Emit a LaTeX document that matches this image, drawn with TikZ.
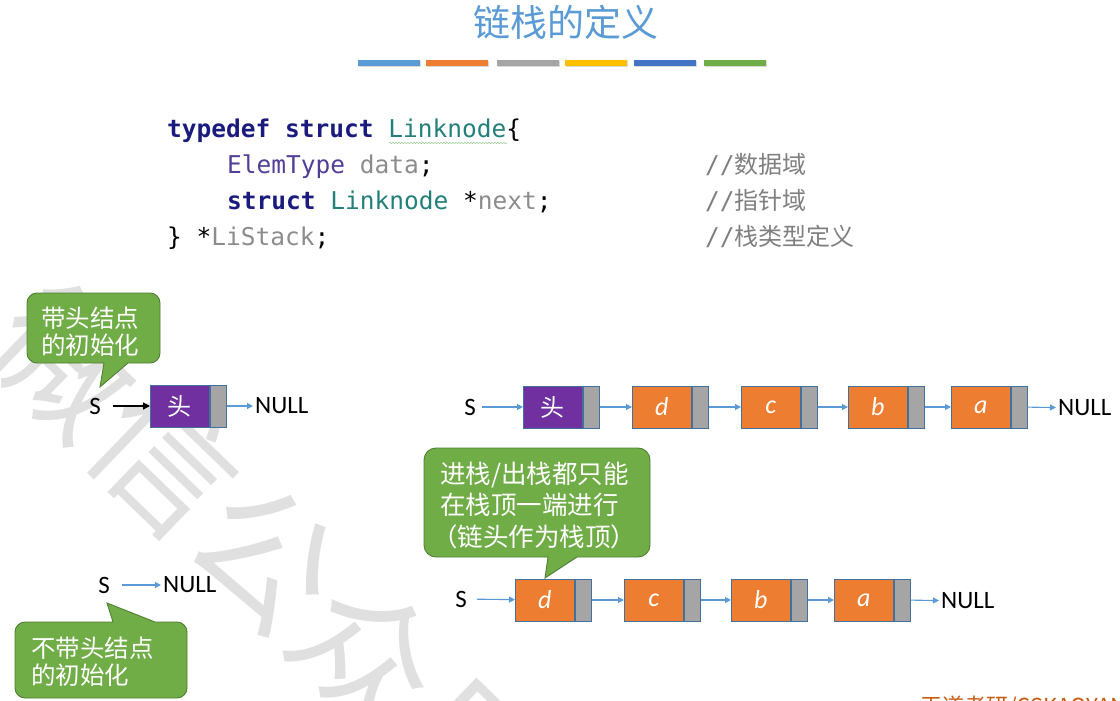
\documentclass[tikz,border=0pt]{standalone}
\usepackage{fontspec}
\setmainfont{Carlito}
\setmonofont{DejaVu Sans Mono}
\newfontfamily\cjk{Noto Sans CJK SC}
\usetikzlibrary{arrows.meta,decorations.pathmorphing}

\definecolor{titleblue}{HTML}{5B9BD5}
\definecolor{barA}{HTML}{5B9BD5}
\definecolor{barB}{HTML}{ED7D31}
\definecolor{barC}{HTML}{A5A5A5}
\definecolor{barD}{HTML}{FFC000}
\definecolor{barE}{HTML}{4472C4}
\definecolor{barF}{HTML}{70AD47}
\definecolor{kwnavy}{HTML}{1B1B7E}
\definecolor{typeteal}{HTML}{237F7A}
\definecolor{typepurple}{HTML}{523E96}
\definecolor{identgray}{HTML}{8C8C8C}
\definecolor{cmtgray}{HTML}{7F7F7F}
\definecolor{calloutfill}{HTML}{70AD47}
\definecolor{calloutedge}{HTML}{507E32}
\definecolor{nodeedge}{HTML}{41719C}
\definecolor{headpurple}{HTML}{7030A0}
\definecolor{dataorange}{HTML}{ED7D31}
\definecolor{ptrgray}{HTML}{A5A5A5}
\definecolor{linkblue}{HTML}{5B9BD5}
\definecolor{brand}{HTML}{C55A11}
\definecolor{squiggle}{HTML}{A9CFA0}

\newcommand\codefont{\ttfamily\fontsize{24.5}{30}\selectfont}
\newcommand\cmtcjk{\cjk\fontsize{24}{24}\selectfont}

\begin{document}
\begin{tikzpicture}[x=1pt,y=-1pt,
  codeline/.style={anchor=base west, inner sep=0, font=\codefont},
  cmtline/.style={anchor=base west, inner sep=0, text=cmtgray},
  datacell/.style={draw=nodeedge, line width=0.8pt, minimum width=59pt,
    minimum height=42pt, inner sep=0, anchor=west, text=white},
  headcell/.style={datacell, fill=headpurple, font=\cjk\fontsize{24}{24}\selectfont},
  elemcell/.style={datacell, fill=dataorange, font=\itshape\fontsize{26}{26}\selectfont},
  ptrcell/.style={draw=nodeedge, line width=0.8pt, fill=ptrgray, minimum width=16pt,
    minimum height=42pt, inner sep=0, anchor=west},
  lbl/.style={font=\fontsize{25}{25}\selectfont, inner sep=2pt},
  link/.style={draw=linkblue, line width=1.1pt, -{Triangle[length=6pt,width=6pt]}},
  callout/.style={fill=calloutfill, draw=calloutedge, line width=0.9pt},
  callouttext/.style={text=white, font=\cjk\fontsize{24.5}{27}\selectfont,
    align=left, anchor=west, inner sep=0},
]
\useasboundingbox (0,0) rectangle (1120,701);
\clip (0,0) rectangle (1120,701);

% faint background watermark
\node[text=black!12, rotate=-44, inner sep=0,
  font=\cjk\fontsize{140}{140}\selectfont] (wm) at (267,556) {微信公众号};

% title and colour strip
\node[text=titleblue, font=\cjk\fontsize{37}{40}\selectfont] (title) at (566,22) {链栈的定义};
\foreach \x/\c in {358/barA, 426/barB, 497/barC, 565/barD, 634/barE, 704/barF} {
  \fill[black!15] (\x+1,61.5) rectangle (\x+63,67.5);
  \fill[\c] (\x,60) rectangle (\x+62,66);
}

% structure definition
\node[codeline] (c1) at (167,137) {{\bfseries\color{kwnavy}typedef struct} {\color{typeteal}Linknode}\{};
\node[codeline] (c2) at (227,173) {{\color{typepurple}ElemType} {\color{identgray}data};};
\node[codeline] (c3) at (227,209) {{\bfseries\color{kwnavy}struct} {\color{typeteal}Linknode} *{\color{identgray}next};};
\node[codeline] (c4) at (167,245) {\} *{\color{identgray}LiStack};};
\draw[squiggle, line width=0.6pt, decorate,
  decoration={snake, amplitude=0.8pt, segment length=3pt}] (389,143) -- (507,143);

\node[cmtline] (m1) at (705,173) {{\codefont //}{\cmtcjk 数据域}};
\node[cmtline] (m2) at (705,209) {{\codefont //}{\cmtcjk 指针域}};
\node[cmtline] (m3) at (705,245) {{\codefont //}{\cmtcjk 栈类型定义}};

% callouts
\path[callout] (37,293) -- (150,293) arc(-90:0:10) -- (160,353) arc(0:90:10)
  -- (128,363) -- (100,387) -- (104,363) -- (37,363) arc(90:180:10)
  -- (27,303) arc(180:270:10) -- cycle;
\node[callouttext] (t1) at (41,331.5) {带头结点\\的初始化};

\path[callout] (436,448) -- (638,448) arc(-90:0:12) -- (650,545) arc(0:90:12)
  -- (577,557) -- (545,578) -- (548,557) -- (436,557) arc(90:180:12)
  -- (424,460) arc(180:270:12) -- cycle;
\node[callouttext, font=\cjk\fontsize{25.5}{31.5}\selectfont] (t2) at (440,505)
  {进栈/出栈都只能\\在栈顶一端进行\\\hspace*{-8pt}（链头作为栈顶）};

\path[callout] (25,622) -- (113,622) -- (107,603) -- (155,622) -- (177,622)
  arc(-90:0:10) -- (187,688) arc(0:90:10) -- (25,698) arc(90:180:10)
  -- (15,632) arc(180:270:10) -- cycle;
\node[callouttext] (t3) at (31,661.5) {不带头结点\\的初始化};

% initialised stack with head node
\node[lbl] (s0) at (95,406) {S};
\node[headcell] (h0) at (150,406) {头};
\node[ptrcell] (h0p) at (h0.east) {};
\node[lbl, anchor=west] (n0) at (253,406) {NULL};
\draw[black, line width=1.4pt, -{Triangle[length=7pt,width=7pt]}, shorten <=10pt] (s0) -- (h0);
\draw[link] (h0p) -- (n0);

% stack with head node holding d c b a
\node[lbl] (s1) at (470,407) {S};
\node[headcell] (h1) at (523,407) {头};
\node[ptrcell] (h1p) at (h1.east) {};
\node[elemcell] (d1) at (632,407) {d};
\node[ptrcell] (d1p) at (d1.east) {};
\node[elemcell] (c1n) at (741,407) {c};
\node[ptrcell] (c1p) at (c1n.east) {};
\node[elemcell] (b1) at (848,407) {b};
\node[ptrcell] (b1p) at (b1.east) {};
\node[elemcell] (a1) at (951,407) {a};
\node[ptrcell] (a1p) at (a1.east) {};
\node[lbl, anchor=west] (n1) at (1056,408) {NULL};
\draw[link, shorten <=4pt] (s1) -- (h1);
\draw[link] (h1p) -- (d1);
\draw[link] (d1p) -- (c1n);
\draw[link] (c1p) -- (b1);
\draw[link] (b1p) -- (a1);
\draw[link] (a1p) -- (n1);

% empty stack without head node
\node[lbl] (s2) at (104,585) {S};
\node[lbl, anchor=west] (n2) at (161,585) {NULL};
\draw[link, shorten <=10pt] (s2) -- (n2);

% stack without head node holding d c b a
\node[lbl] (s3) at (461,599) {S};
\node[elemcell] (d3) at (515,600) {d};
\node[ptrcell] (d3p) at (d3.east) {};
\node[elemcell] (c3n) at (624,600) {c};
\node[ptrcell] (c3p) at (c3n.east) {};
\node[elemcell] (b3) at (731,600) {b};
\node[ptrcell] (b3p) at (b3.east) {};
\node[elemcell] (a3) at (834,600) {a};
\node[ptrcell] (a3p) at (a3.east) {};
\node[lbl, anchor=west] (n3) at (939,601) {NULL};
\draw[link, shorten <=8pt] (s3) -- (d3);
\draw[link] (d3p) -- (c3n);
\draw[link] (c3p) -- (b3);
\draw[link] (b3p) -- (a3);
\draw[link] (a3p) -- (n3);

% footer
\node[anchor=base west, inner sep=0, text=brand, font=\cjk\fontsize{22}{22}\selectfont]
  (brand) at (920,714) {王道考研/CSKAOYAN};
\end{tikzpicture}
\end{document}
